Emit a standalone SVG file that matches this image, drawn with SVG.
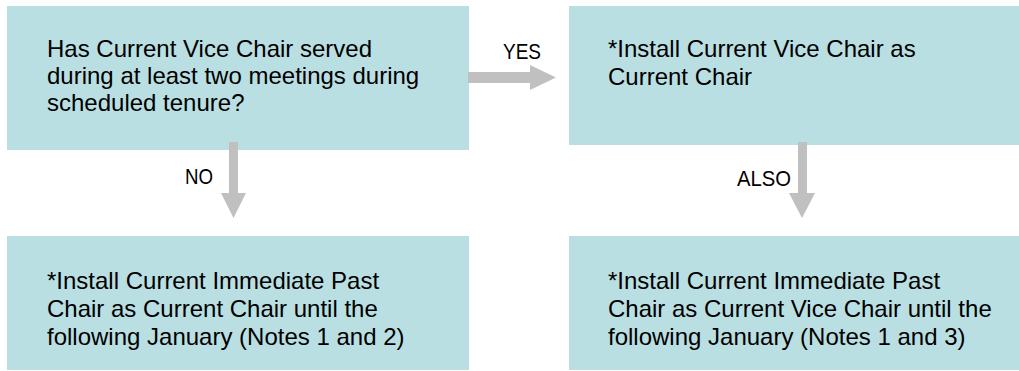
<svg xmlns="http://www.w3.org/2000/svg" width="1019" height="371" viewBox="0 0 1019 371">
  <style>
    .box { fill: #b9dfe3; }
    .t { font-family: "Liberation Sans", Arial, sans-serif; font-size: 24px; fill: #000; }
    .lbl { font-family: "Liberation Sans", Arial, sans-serif; font-size: 22px; fill: #000; }
    .arr { fill: #c0c0c0; }
  </style>
  <rect width="1019" height="371" fill="#ffffff"/>
  <g id="node-question">
    <rect class="box" x="7" y="6" width="462" height="144"/>
    <text class="t" x="47" y="57">Has Current Vice Chair served</text>
    <text class="t" x="47" y="84">during at least two meetings during</text>
    <text class="t" x="47" y="111">scheduled tenure?</text>
  </g>
  <g id="node-install-vice">
    <rect class="box" x="569" y="6" width="450" height="139"/>
    <text class="t" x="608" y="57">*Install Current Vice Chair as</text>
    <text class="t" x="608" y="85">Current Chair</text>
  </g>
  <g id="node-install-past-chair">
    <rect class="box" x="7" y="236" width="462" height="134"/>
    <text class="t" x="47" y="289">*Install Current Immediate Past</text>
    <text class="t" x="47" y="317">Chair as Current Chair until the</text>
    <text class="t" x="47" y="345">following January (Notes 1 and 2)</text>
  </g>
  <g id="node-install-past-vice">
    <rect class="box" x="569" y="236" width="450" height="134"/>
    <text class="t" x="608" y="289">*Install Current Immediate Past</text>
    <text class="t" x="608" y="317">Chair as Current Vice Chair until the</text>
    <text class="t" x="608" y="345">following January (Notes 1 and 3)</text>
  </g>
  <g id="connectors">
    <polygon class="arr" points="468,72 530,72 530,65 556,77.5 530,90 530,83 468,83"/>
    <text class="lbl" x="503" y="58.5" textLength="38" lengthAdjust="spacingAndGlyphs">YES</text>
    <polygon class="arr" points="229,142 238,142 238,193 246,193 233.5,218 221,193 229,193"/>
    <text class="lbl" x="185" y="183.5" textLength="28" lengthAdjust="spacingAndGlyphs">NO</text>
    <polygon class="arr" points="798,142 807,142 807,193 815,193 802,218 789,193 798,193"/>
    <text class="lbl" x="737" y="186" textLength="54" lengthAdjust="spacingAndGlyphs">ALSO</text>
  </g>
</svg>
